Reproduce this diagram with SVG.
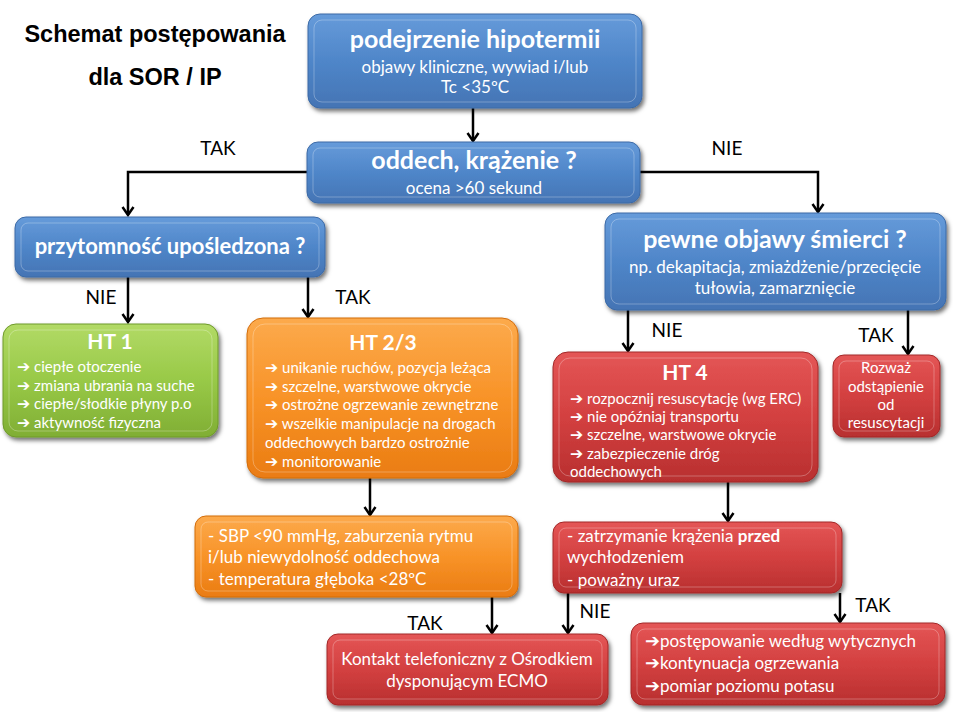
<svg xmlns="http://www.w3.org/2000/svg" width="953" height="712" viewBox="0 0 953 712">
<defs>
  <linearGradient id="gBlue" x1="0" y1="0" x2="0" y2="1">
    <stop offset="0" stop-color="#669bda"/>
    <stop offset="0.5" stop-color="#4f86c9"/>
    <stop offset="1" stop-color="#4474b4"/>
  </linearGradient>
  <linearGradient id="gRed" x1="0" y1="0" x2="0" y2="1">
    <stop offset="0" stop-color="#e45656"/>
    <stop offset="0.5" stop-color="#d34040"/>
    <stop offset="1" stop-color="#b82f2f"/>
  </linearGradient>
  <linearGradient id="gOrange" x1="0" y1="0" x2="0" y2="1">
    <stop offset="0" stop-color="#fcaa4c"/>
    <stop offset="0.5" stop-color="#f89328"/>
    <stop offset="1" stop-color="#ea7c12"/>
  </linearGradient>
  <linearGradient id="gGreen" x1="0" y1="0" x2="0" y2="1">
    <stop offset="0" stop-color="#b2da66"/>
    <stop offset="0.5" stop-color="#98c947"/>
    <stop offset="1" stop-color="#80ae34"/>
  </linearGradient>
  <filter id="sh" x="-10%" y="-10%" width="120%" height="130%">
    <feDropShadow dx="2" dy="3" stdDeviation="2" flood-color="#000" flood-opacity="0.55"/>
  </filter>
  <marker id="arr" markerUnits="userSpaceOnUse" viewBox="-10 -7 12 14" refX="0" refY="0" markerWidth="12" markerHeight="14" orient="auto">
    <path d="M-8,-5.5 L0,0 L-8,5.5" fill="none" stroke="#000" stroke-width="2.5"/>
  </marker>
</defs>
<style>
  .box { filter: url(#sh); }
  .blue { fill: url(#gBlue); stroke: #3c6aa6; stroke-width: 1; }
  .red { fill: url(#gRed); stroke: #a22828; stroke-width: 1; }
  .orange { fill: url(#gOrange); stroke: #d26c0c; stroke-width: 1; }
  .green { fill: url(#gGreen); stroke: #6f9a2a; stroke-width: 1; }
  .inner { fill: none; stroke: #ffffff; stroke-opacity: 0.28; stroke-width: 1; }
  text { font-family: Lato, "Noto Sans", sans-serif; fill: #ffffff; }
  .t { font-weight: bold; text-anchor: middle; }
  .c { text-anchor: middle; }
  .s17 { font-size: 17px; }
  .s15 { font-size: 15px; }
  .ar { font-family: "DejaVu Sans", sans-serif; font-weight: bold; font-size: 1.05em; }
  .lbl { fill: #000000; font-size: 19px; text-anchor: middle; }
  .title { font-family: "Liberation Sans", Arial, sans-serif; font-weight: bold; font-size: 23.5px; fill: #000; text-anchor: middle; }
  .conn path { fill: none; stroke: #000; stroke-width: 2.5; marker-end: url(#arr); }
</style>
<rect width="953" height="712" fill="#ffffff"/>

<g id="title">
  <text class="title" x="155" y="42">Schemat postępowania</text>
  <text class="title" x="155" y="85">dla SOR / IP</text>
</g>

<g id="connectors" class="conn">
  <path d="M473,108 L473,141"/>
  <path d="M307,172 L128,172 L128,215"/>
  <path d="M640,172 L818,172 L818,212"/>
  <path d="M128,277 L128,322"/>
  <path d="M308,277 L308,317"/>
  <path d="M370,478 L370,515"/>
  <path d="M492,597 L492,633"/>
  <path d="M568,593 L568,633"/>
  <path d="M628,310 L628,351"/>
  <path d="M908,310 L908,354"/>
  <path d="M728,482 L728,521"/>
  <path d="M840,593 L840,622"/>
</g>

<g id="labels">
  <text class="lbl" x="218" y="155">TAK</text>
  <text class="lbl" x="727" y="155">NIE</text>
  <text class="lbl" x="101" y="304">NIE</text>
  <text class="lbl" x="353" y="304">TAK</text>
  <text class="lbl" x="667" y="337">NIE</text>
  <text class="lbl" x="876" y="342">TAK</text>
  <text class="lbl" x="425" y="630">TAK</text>
  <text class="lbl" x="595" y="618">NIE</text>
  <text class="lbl" x="873" y="612">TAK</text>
</g>

<g id="n-podejrzenie">
  <rect class="box blue" x="308" y="14" width="334" height="94" rx="12"/>
  <rect class="inner" x="314" y="20" width="322" height="82" rx="8"/>
  <text class="t" x="475" y="48" font-size="25">podejrzenie hipotermii</text>
  <text class="c s17" x="475" y="73">objawy kliniczne, wywiad i/lub</text>
  <text class="c s17" x="475" y="93">Tc &lt;35ºC</text>
</g>

<g id="n-oddech">
  <rect class="box blue" x="307" y="142" width="333" height="61" rx="11"/>
  <rect class="inner" x="313" y="148" width="321" height="49" rx="7"/>
  <text class="t" x="474" y="169" font-size="25">oddech, krążenie ?</text>
  <text class="c s17" x="474" y="194">ocena &gt;60 sekund</text>
</g>

<g id="n-przytomnosc">
  <rect class="box blue" x="15" y="217" width="310" height="60" rx="11"/>
  <rect class="inner" x="21" y="223" width="298" height="48" rx="7"/>
  <text class="t" x="170" y="254" font-size="22">przytomność upośledzona ?</text>
</g>

<g id="n-pewne">
  <rect class="box blue" x="605" y="213" width="341" height="97" rx="12"/>
  <rect class="inner" x="611" y="219" width="329" height="85" rx="8"/>
  <text class="t" x="775" y="248" font-size="25">pewne objawy śmierci ?</text>
  <text class="c s17" x="775" y="273">np. dekapitacja, zmiażdżenie/przecięcie</text>
  <text class="c s17" x="775" y="294">tułowia, zamarznięcie</text>
</g>

<g id="n-ht1">
  <rect class="box green" x="3" y="324" width="215" height="113" rx="13"/>
  <rect class="inner" x="9" y="330" width="203" height="101" rx="9"/>
  <text class="t" x="110" y="349" font-size="21">HT 1</text>
  <text class="s15" x="17" y="372"><tspan class="ar">➔</tspan> ciepłe otoczenie</text>
  <text class="s15" x="17" y="391"><tspan class="ar">➔</tspan> zmiana ubrania na suche</text>
  <text class="s15" x="17" y="409"><tspan class="ar">➔</tspan> ciepłe/słodkie płyny p.o</text>
  <text class="s15" x="17" y="428"><tspan class="ar">➔</tspan> aktywność fizyczna</text>
</g>

<g id="n-ht23">
  <rect class="box orange" x="247" y="318" width="271" height="160" rx="16"/>
  <rect class="inner" x="253" y="324" width="259" height="148" rx="12"/>
  <text class="t" x="383" y="350" font-size="21">HT 2/3</text>
  <text class="s15" x="265" y="373"><tspan class="ar">➔</tspan> unikanie ruchów, pozycja leżąca</text>
  <text class="s15" x="265" y="392"><tspan class="ar">➔</tspan> szczelne, warstwowe okrycie</text>
  <text class="s15" x="265" y="410"><tspan class="ar">➔</tspan> ostrożne ogrzewanie zewnętrzne</text>
  <text class="s15" x="265" y="429"><tspan class="ar">➔</tspan> wszelkie manipulacje na drogach</text>
  <text class="s15" x="265" y="448">oddechowych bardzo ostrożnie</text>
  <text class="s15" x="265" y="467"><tspan class="ar">➔</tspan> monitorowanie</text>
</g>

<g id="n-sbp">
  <rect class="box orange" x="195" y="516" width="323" height="81" rx="11"/>
  <rect class="inner" x="201" y="522" width="311" height="69" rx="7"/>
  <text class="s17" x="208" y="542">- SBP &lt;90 mmHg, zaburzenia rytmu</text>
  <text class="s17" x="208" y="563">i/lub niewydolność oddechowa</text>
  <text class="s17" x="208" y="585">- temperatura głęboka &lt;28ºC</text>
</g>

<g id="n-ht4">
  <rect class="box red" x="553" y="352" width="265" height="130" rx="15"/>
  <rect class="inner" x="559" y="358" width="253" height="118" rx="11"/>
  <text class="t" x="685" y="380" font-size="21">HT 4</text>
  <text class="s15" x="570" y="404"><tspan class="ar">➔</tspan> rozpocznij resuscytację (wg ERC)</text>
  <text class="s15" x="570" y="422"><tspan class="ar">➔</tspan> nie opóźniaj transportu</text>
  <text class="s15" x="570" y="440"><tspan class="ar">➔</tspan> szczelne, warstwowe okrycie</text>
  <text class="s15" x="570" y="459"><tspan class="ar">➔</tspan> zabezpieczenie dróg</text>
  <text class="s15" x="570" y="477">oddechowych</text>
</g>

<g id="n-rozwaz">
  <rect class="box red" x="833" y="355" width="107" height="82" rx="11"/>
  <rect class="inner" x="839" y="361" width="95" height="70" rx="7"/>
  <text class="c s15" x="886" y="373">Rozważ</text>
  <text class="c s15" x="886" y="392">odstąpienie</text>
  <text class="c s15" x="886" y="410">od</text>
  <text class="c s15" x="886" y="428">resuscytacji</text>
</g>

<g id="n-zatrzymanie">
  <rect class="box red" x="553" y="522" width="289" height="71" rx="11"/>
  <rect class="inner" x="559" y="528" width="277" height="59" rx="7"/>
  <text class="s17" x="567" y="542">- zatrzymanie krążenia <tspan font-weight="bold">przed</tspan></text>
  <text class="s17" x="567" y="563">wychłodzeniem</text>
  <text class="s17" x="567" y="586">- poważny uraz</text>
</g>

<g id="n-ecmo">
  <rect class="box red" x="327" y="634" width="281" height="71" rx="11"/>
  <rect class="inner" x="333" y="640" width="269" height="59" rx="7"/>
  <text class="c s17" x="467" y="665">Kontakt telefoniczny z Ośrodkiem</text>
  <text class="c s17" x="467" y="687">dysponującym ECMO</text>
</g>

<g id="n-wytyczne">
  <rect class="box red" x="631" y="623" width="314" height="82" rx="12"/>
  <rect class="inner" x="637" y="629" width="302" height="70" rx="8"/>
  <text class="s17" x="645" y="647"><tspan class="ar">➔</tspan>postępowanie według wytycznych</text>
  <text class="s17" x="645" y="669"><tspan class="ar">➔</tspan>kontynuacja ogrzewania</text>
  <text class="s17" x="645" y="692"><tspan class="ar">➔</tspan>pomiar poziomu potasu</text>
</g>
</svg>
